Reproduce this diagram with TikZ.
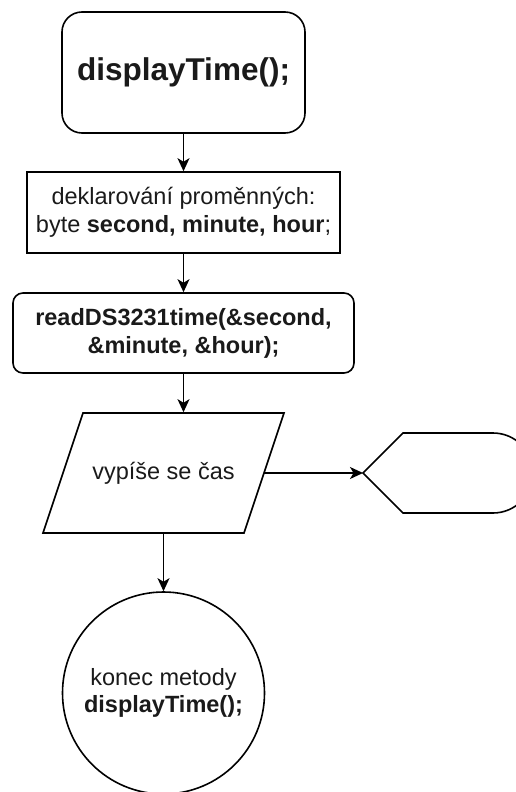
\documentclass[tikz,border=0pt]{standalone}
\usepackage{fontspec}
\setmainfont{Liberation Sans}
\usetikzlibrary{arrows.meta,shapes.geometric}
\definecolor{txt}{HTML}{1A1A1A}
\tikzset{
  base/.style={draw=black, line width=1.6pt, text=txt, align=center, inner sep=0pt,
    font=\fontsize{23.5}{27.5}\selectfont},
  conn/.style={draw=black, line width=1.6pt, -{Stealth[length=13pt,width=12pt,inset=3.5pt]}},
  outline/.style={draw=black, line width=1.6pt},
}
\begin{document}
\begin{tikzpicture}[x=1pt,y=-1pt]
\useasboundingbox (0,0) rectangle (515,792);
\node[base, rounded corners=20pt, minimum width=243pt, minimum height=121pt,
      font=\fontsize{31.5}{36}\selectfont\bfseries] (start) at (183.5,72.5) {displayTime();};
\node[base, minimum width=313pt, minimum height=81pt] (decl) at (183.5,212.5)
  {deklarování proměnných:\\byte \textbf{second, minute, hour};};
\node[base, rounded corners=10pt, minimum width=341pt, minimum height=80pt,
      font=\fontsize{23.5}{28}\selectfont\bfseries] (read) at (183.5,333)
  {readDS3231time(\&second,\\\&minute, \&hour);};
% parallelogram (input/output)
\node[base, draw=none, minimum width=201pt, minimum height=120pt] (io) at (163.5,473) {vypíše se čas};
\draw[outline] (83,413) -- (284,413) -- (244,533) -- (43,533) -- cycle;
\coordinate (ioR) at (264,473);
% display shape
\coordinate (disp) at (363,473);
\draw[outline] (disp) -- (403,433) -- (493,433) arc[start angle=90, end angle=-90, radius=40pt] -- (403,513) -- cycle;
% end circle
\node[base, circle, minimum size=202pt] (end) at (163.5,693)
  {konec metody\\\textbf{displayTime();}};
% connectors
\draw[conn] (start) -- (decl);
\draw[conn] (decl) -- (read);
\draw[conn] (read.south) -- (read.south |- io.north);
\draw[conn] (ioR) -- (disp);
\draw[conn] (io.south) -- (end);
\end{tikzpicture}
\end{document}
